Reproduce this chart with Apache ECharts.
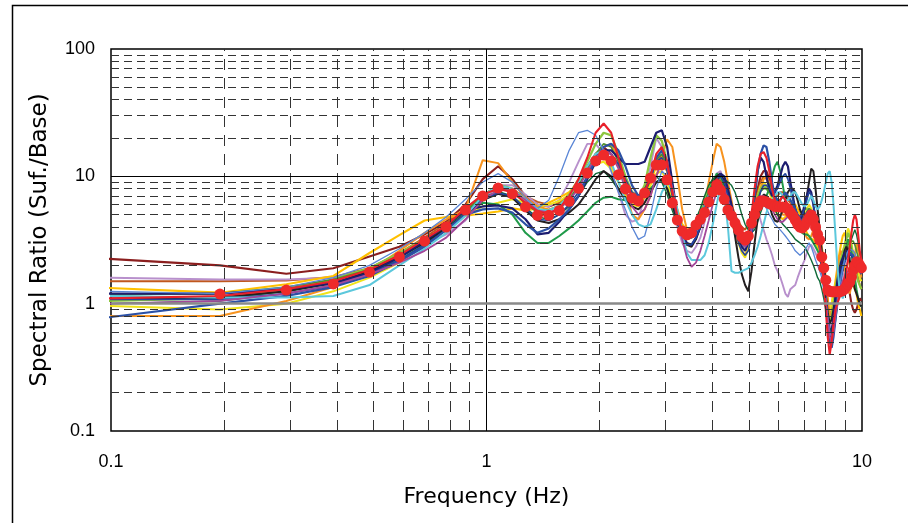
<!DOCTYPE html>
<html><head><meta charset="utf-8">
<script src="https://cdn.jsdelivr.net/npm/echarts@6/dist/echarts.min.js"></script>
<style>html,body{margin:0;padding:0;background:#fff}#c{width:908px;height:523px}</style>
</head><body><div id="c"></div>
<script>
// FFT frequency bins (Hz)
const freq = [0.098,0.195,0.293,0.391,0.488,0.586,0.684,0.781,0.879,0.977,1.074,1.172,1.270,1.367,1.465,1.563,1.660,1.758,1.855,1.953,2.051,2.148,2.246,2.344,2.441,2.539,2.637,2.734,2.832,2.930,3.027,3.125,3.223,3.320,3.418,3.516,3.613,3.711,3.809,3.906,4.004,4.102,4.199,4.297,4.395,4.492,4.590,4.688,4.785,4.883,4.980,5.078,5.176,5.273,5.371,5.469,5.566,5.664,5.762,5.859,5.957,6.055,6.152,6.250,6.348,6.445,6.543,6.641,6.738,6.836,6.934,7.031,7.129,7.227,7.324,7.422,7.520,7.617,7.715,7.813,7.910,8.008,8.105,8.203,8.301,8.398,8.496,8.594,8.691,8.789,8.887,8.984,9.082,9.180,9.277,9.375,9.473,9.570,9.668,9.766,9.863,9.961];

const sRed = [1.1,1.15,1.3,1.5,1.85,2.4,3.2,4.1,5.6, 7.2,8.0,7.5,6.2,5.3,5.1,5.6, 7.0,9.5,14,22,26,22,14,9,7,6.5, 7.5,10,15,17,13,7.5,4.8,3.7,3.4,3.5, 4.0,4.6,5.3,6.5,8,9.5,9,7.5,6,5,4.2,3.6,3.2,3.1, 3.5,5,8,12,15,15.5,14,11,8,6.5,6,6.5,7,6.5,6,5.5,5,4.6,4.2,4,4.2,4.6,5,5.4,5.2,4.6,3.9,3.4,3.0, 2.2,1.5,0.9,0.55,0.4,0.5,0.7,0.9,1.0,1.1,1.2,1.4,1.6,1.8,2.2,2.8,3.6,4.5,5.0,4.6,3.5,2.6,2.2];
const sMaroon = [2.25,2.0,1.72,1.9,2.35,2.8,3.5,4.4,6.0, 9.5,12,9.5,7.0,6.0,5.8,6.2, 7.2,9.0,12,15,17,15,12,9,7.5,7.0, 8.0,10.5,13,14,11,7.2,5.0,4.0,3.7,3.8, 4.3,5.0,5.8,7,8.5,9,8.5,7.5,6.2,5.2,4.5,4.0,3.6,3.4, 3.6,4.5,6,8,10,11,11,9.5,8,7,6.5,6,5.5,5.2,5,4.8,4.6,4.5,4.4,4.5,4.7,5,5.2,5,4.6,4.2,3.8,3.4,3.1, 2.5,2.0,1.5,1.0,0.7,0.6,0.7,0.9,1.2,1.5,1.7,1.9,1.8,1.6,1.4,1.2,1.0,0.9,0.85,0.9,1.0,1.1,1.05];
const sOrange = [0.8,0.8,1.05,1.35,1.8,2.6,3.6,4.6,5.5, 13.4,12.7,9.0,6.8,5.8,5.5,5.8, 6.8,8.5,11,14,17,18,14,8,5,4.6, 5.5,7,10,14,19.5,17,10,5.5,3.8,3.5, 3.8,4.5,6,9,13,18,17,13,9,6.5,4.5,3.5,3,2.8, 3,3.8,5,6.5,8,9.5,10,9,7.5,6.5,6,5.5,5,5,5.2,5.5,5.8,5.5,5,4.5,4,3.6,3.3,3.2,3.4,3.8,4.2,4,3.5, 2.8,2.2,1.6,1.1,0.8,0.8,1.0,1.3,1.8,2.3,2.6,2.4,2.0,1.6,1.3,1.2,1.4,1.8,2.4,3.0,2.6,2.0,1.6];
const sGold = [1.33,1.22,1.42,1.65,2.5,3.45,4.5,4.8,4.9, 5.1,5.3,5.6,5.4,5.6,6.2,6.8, 7.5,9,11,13,14,12,9,7,6,6, 7,9,12,13,11,8,5.5,4.2,3.8,3.9, 4.5,5.2,6,7,8,9,8,7,5.5,4.5,3.6,3.0,2.6,2.4, 2.8,3.5,4.5,5.5,6.5,7,7,6.5,6,5.5,5,4.8,4.6,4.8,5,5.5,6,6,5.5,5,4.5,4,3.6,3.4,3.2,3.2,3.0,2.8,2.5, 2.0,1.6,1.2,1.0,0.9,1.0,1.2,1.5,1.9,2.4,2.9,3.4,3.6,3.2,2.6,2.0,1.6,1.4,1.3,1.2,1.0,0.9,0.8];
const sYellow = [0.96,0.9,1.0,1.25,1.6,2.1,2.9,3.8,4.9, 5.8,6.2,6.6,6.2,5.8,6.0,6.4, 7.2,8.6,10.5,12.5,13,11.5,9,7,6,5.8, 6.8,8.5,10.5,11,9,6.5,4.6,3.6,3.2,3.3, 3.8,4.4,5.4,6.6,8,9.5,10,8.5,6.5,5,3.8,3.0,2.5,2.3, 2.7,3.6,5,7,8.5,9,8.5,7.5,6.5,6,6,6.5,7,7.5,7,6.5,6,5.4,4.8,4.4,4.4,4.8,5.5,6,5.6,4.8,4,3.4,3, 2.3,1.8,1.3,1.0,0.9,1.0,1.2,1.4,1.7,2.0,2.3,2.6,2.9,3.4,3.9,3.6,3.0,2.5,2.2,2.0,1.8,1.6,1.5];
const sLime = [1.05,1.1,1.3,1.55,1.9,2.5,3.2,4.0,5.3, 7.0,8.6,8.0,6.5,5.5,5.4,5.9, 7.2,9.5,13,18,22,21,15,10,7.5,6.8, 8.5,14,21,19,13,7.5,5,3.8,3.4,3.6, 4.4,5.4,6.6,8,9.5,10,9,7.5,6,5,4.2,3.6,3.1,2.9, 3.2,4.2,5.5,7,8,8.5,8,7.5,7,6.5,6.5,6,5.5,5.2,5,4.8,4.6,4.5,4.5,4.8,5.2,5.5,5.6,5.2,4.6,4,3.5,3.1,2.8, 2.2,1.6,1.1,0.8,0.7,0.8,1.0,1.3,1.6,1.9,2.2,2.5,2.8,3.2,3.6,3.3,2.8,2.4,2.0,1.7,1.5,1.4,1.3];
const sGreen = [1.15,1.1,1.25,1.45,1.75,2.2,2.9,3.8,5.0, 6.2,6.0,5.0,3.6,3.0,3.0,3.4, 3.9,4.5,5.3,6.2,6.8,6.9,6.6,6.5,6.6,6.5, 7.0,8.0,9.0,9.5,8,6,4.5,3.6,3.3,3.4, 4.0,4.8,6,7.5,9,10.5,10,8.5,7,5.8,4.8,4,3.4,3.0, 3.3,4,5,6,6.5,6.8,7,8,10,12,13,11,8.5,6.5,5.5,5,4.6,4.2,4,3.8,3.6,3.5,3.5,3.4,3.2,3.0,2.8,2.6,2.4, 2.0,1.5,1.1,0.8,0.6,0.55,0.6,0.75,1.0,1.3,1.6,2.0,2.4,2.8,3.2,3.0,2.5,2.0,1.6,1.3,1.1,1.0,0.95];
const sDkGreen = [1.0,1.05,1.2,1.4,1.75,2.3,3.0,3.9,5.2, 6.8,7.6,7.0,5.6,4.8,4.6,5.0, 5.8,7.0,9.0,10.5,11,9.5,7.8,6.8,6.5,7.0, 8.0,9.5,10,9,7.2,5.4,4.2,3.6,3.5,3.8, 4.6,5.6,7,8.5,9.5,10,10,9.5,9,8.5,7.5,6.2,5,4.2, 3.8,3.6,3.8,4.4,5.2,6,6.5,6.5,6,5.5,5,4.5,4.2,4,3.8,3.6,3.4,3.2,3.1,3.0,2.9,2.8,2.6,2.4,2.2,2.0,1.8,1.6,1.5, 1.3,1.1,0.9,0.75,0.65,0.6,0.65,0.8,1.0,1.3,1.6,1.9,2.2,2.4,2.6,2.9,3.2,3.5,3.8,3.5,3.0,2.5,2.2];
const sBlack = [1.1,1.12,1.25,1.45,1.8,2.35,3.0,3.9,5.0, 6.5,7.3,6.8,5.4,4.5,4.3,4.6, 5.2,6.0,7.5,9.5,11,10,8,6.5,5.8,5.5, 6.2,7.5,9,9.5,8,6,4.4,3.4,2.9,2.8, 3.2,4,5.2,6.8,8.5,10,10.5,9,7,5,3.4,2.3,1.7,1.4, 1.25,1.8,3,4.6,6.2,7.2,7,6,5,4.5,4.4,4.8,5.5,6.5,7.5,8,8,7.5,6.5,5.5,5,5.5,7,9,11.5,11,8,5.5,3.8, 2.6,1.8,1.2,0.85,0.7,0.75,0.9,1.1,1.3,1.5,1.8,2.2,2.6,2.8,2.6,2.2,1.8,1.5,1.3,1.2,1.1,1.0,0.95];
const sNavy = [1.2,1.2,1.3,1.45,1.75,2.3,3.1,4.1,5.4, 5.8,5.9,5.6,4.6,3.5,3.6,4.4, 5.5,7,9.5,13,16,16,14,12.5,12.5,12.5, 13,17,22,23,17,9,5,3.5,3.0,2.9, 3.3,4,5,6.2,7.5,9,10.5,10,8,6,4.5,3.4,2.8,2.6, 3,4.5,7,11,14,13,10,8,7,7.5,8.5,10,12,13,12,9,7,5.5,4.8,4.5,5,6,7,8,7.5,6,4.5,3.5,2.8, 2.0,1.4,1.0,0.7,0.55,0.6,0.8,1.1,1.5,1.8,2.1,2.3,2.5,2.6,2.6,2.5,2.4,2.3,2.3,2.2,2.1,2.0,1.9];
const sBlue = [0.78,1.0,1.15,1.35,1.65,2.15,2.8,3.8,5.0, 5.5,5.6,5.2,4.2,3.6,3.9,4.6, 5.5,7,10,14,17,18,16,12,8.5,7, 7.5,10,14,16,13,8,5,3.8,3.3,3.3, 3.7,4.3,5.2,6.4,7.6,8.6,8.6,7.6,6.4,5.2,4.2,3.5,3.0,2.8, 3.2,4.6,7,11,15,17.5,17,13,9,7,6.5,6.5,7,7.5,7,6.5,6,5.5,5,4.6,4.5,4.8,5.2,5.4,5,4.4,3.8,3.3,2.9, 2.1,1.5,1.0,0.7,0.5,0.45,0.55,0.75,1.0,1.3,1.6,1.9,2.1,2.3,2.4,2.5,2.5,2.4,2.2,2.0,1.9,1.8,1.7];
const sCorn = [1.25,1.2,1.35,1.6,2.0,2.7,3.6,4.8,6.6, 9.0,10.5,9.0,6.8,5.6,6.5,10, 16,22,23,21,16,11,7.5,5.5,4,3.2, 3.4,5,8,11,10,7.5,5.2,4,3.6,3.6, 4.2,5,6,7.2,8.4,9,8.5,7.5,6.4,5.4,4.6,4,3.6,3.4, 3.6,4.2,5,5.6,6,6,5.6,5,4.6,4.2,4,3.8,3.6,3.4,3.2,3,2.8,2.6,2.5,2.4,2.5,2.6,2.8,3.0,2.8,2.5,2.2,2.0,1.8, 1.6,1.3,1.0,0.75,0.6,0.55,0.6,0.8,1.0,1.3,1.6,1.9,2.2,2.4,2.6,2.7,2.7,2.6,2.5,2.3,2.1,2.0,1.9];
const sCyan = [1.15,1.12,1.12,1.15,1.4,2.0,2.7,3.6,4.9, 7,8.5,8,6.5,5.5,5.4,5.9, 7,9,12,15,16,13,9,6.5,5,4.2, 4,4.2,5.5,7.5,9,8,5.5,3.5,2.5,2.2, 2.2,2.2,2.4,3,4.2,6,8.5,7,4,1.8,1.75,1.75,1.8,1.85, 1.9,2.1,2.4,2.8,3.4,4.2,5.2,6,6.5,7,7.5,7.5,7,6.5,6.5,7,7.5,7.5,7,6.5,6,5.8,6,6.5,7,6.5,5.8,5.5,5.8, 6.5,7.5,9,10.5,11,9,6,3.5,2.0,1.4,1.2,1.1,1.2,1.4,1.6,1.8,2.0,2.2,2.3,2.2,2.0,1.9,1.8];
const sLavender = [1.6,1.55,1.55,1.6,1.85,2.3,2.9,3.5,4.5, 6.5,8.5,8.5,7.2,6.0,5.8,6.5, 9,13,18,18,15,11,7.5,5,4.4,4.6, 7,12,20,17,11,6.5,4,3,2.6,2.5, 2.8,3.3,4.4,6,8,10.5,11,9,7,5.5,4.5,3.8,3.5,3.3, 3.5,4.5,6,5.5,4.5,3.8,3.2,2.8,2.4,2.0,1.8,1.62,1.4,1.2,1.13,1.3,1.35,1.4,1.6,1.8,2.0,2.2,2.5,2.8,2.9,2.7,2.5,2.3,2.2, 2.0,1.7,1.3,1.0,0.7,0.6,0.65,0.8,1.0,1.2,1.4,1.6,1.8,2.0,2.2,2.3,2.3,2.2,2.1,2.0,1.9,1.8,1.8];
const sMagenta = [1.0,1.05,1.2,1.4,1.7,2.1,2.6,3.3,4.6, 6.5,7.8,7.8,6.5,5.4,5.2,5.6, 6.5,8,11,14,16,15,11.5,8,5.8,5, 5.5,7,10,13,12,8,5,3.2,2.3,1.95, 2.1,2.6,3.4,4.5,6,7.5,8.5,8,6.5,5,4,3.4,3,2.8, 3,3.8,5,6.3,7,7,6.5,6,5.5,5,4.6,4.4,4.4,4.6,4.8,5,5,4.8,4.5,4.2,4,4,4.2,4.5,4.4,4,3.6,3.2,2.8, 2.2,1.6,1.1,0.75,0.55,0.5,0.6,0.8,1.0,1.2,1.4,1.5,1.6,1.7,1.8,1.9,2.0,2.1,2.1,2.0,1.9,1.8,1.8];
const sSienna = [1.5,1.5,1.52,1.62,1.9,2.5,3.3,4.3,5.6, 7,8,7.8,7,6.3,6,6.2, 7,8.6,11,14,16,15,12,9,7.2,6.6, 7.5,10,13,14.5,11.5,7.5,5,3.9,3.5,3.6, 4.3,5.2,6.3,7.6,9,10,9.5,8.5,7.2,6,5,4.4,4,3.8, 4.2,5,6,7.5,9,10,9.5,8.5,7.5,7,7,7.5,7.5,7,6.5,6.2,6,5.8,5.5,5.2,5,5,5.2,5.4,5.2,4.8,4.2,3.6,3.1, 2.3,1.8,1.3,0.9,0.65,0.6,0.7,0.9,1.2,1.5,1.8,2.1,2.3,2.4,2.5,2.5,2.4,2.2,2.0,1.8,1.6,1.4,1.3];
const sDkBlue = [1.08,1.08,1.2,1.38,1.7,2.2,2.9,3.8,5.1, 6.6,7.4,7.0,5.6,4.6,4.5,5.0, 6,7.5,10,13,15.5,15,12.5,9.5,7.5,6.8, 7.5,9.5,13,14,11,7,4.5,3.3,2.9,2.9, 3.3,4,5,6.4,8,9.5,10,9,7,5.2,3.9,3.0,2.6,2.4, 2.6,3.4,4.6,6.2,7.6,8.5,8.5,8,7.5,7.5,8,9,10,10.5,9.5,8,6.5,5.6,5,4.8,5,5.6,6.5,7.5,7.2,6,4.8,3.8,3.0, 2.2,1.6,1.1,0.8,0.6,0.55,0.65,0.85,1.1,1.4,1.7,2.0,2.2,2.4,2.5,2.5,2.4,2.3,2.2,2.1,2.0,1.9,1.9];
const sOlive = [1.18,1.2,1.35,1.55,1.85,2.4,3.1,4.0,5.3, 7.2,8.3,7.6,6.1,5.2,5.1,5.5, 6.6,8.4,11.5,15,18,17,13,9,7,6.3, 7.2,9.5,13.5,15,12,7.5,4.9,3.7,3.3,3.4, 4,4.8,6,7.3,8.6,9.5,9.2,8,6.5,5.3,4.4,3.8,3.4,3.2, 3.5,4.3,5.4,6.6,7.6,8,8,7.6,7.2,6.8,6.5,6.2,6,5.8,5.6,5.4,5.2,5,4.8,4.6,4.6,4.8,5.2,5.6,5.4,4.8,4.2,3.6,3.1, 2.2,1.6,1.1,0.75,0.55,0.5,0.6,0.8,1.1,1.4,1.7,2.0,2.3,2.6,2.9,3.1,3.2,3.1,2.9,2.6,2.3,2.1,2.0];
// Average spectral ratio (red dots), first bin not plotted
const sAvg = [null,1.19,1.28,1.43,1.77,2.33,3.1,4.0,5.44, 7.0,8.1,7.3,5.75,4.94,4.94,5.4, 6.36,8.05,10.6,13.2,14.7,13.2,10.3,7.96,6.76,6.41, 7.4,9.7,12.3,12.3,9.4,6.18,4.54,3.72,3.47,3.6, 4.15,4.6,5.2,6.3,7.54,8.56,7.8,6.6,5.44,4.9,4.3,3.79,3.34,3.16, 3.4,4.3,5.0,5.8,6.4,6.4,6.3,6.1,6.0,5.8,5.8,5.75,5.75,5.7,5.54,5.2,4.9,4.54,4.2,4.0,3.93,4.1,4.39,4.7,4.97,4.6,4.0,3.5,3.16, 2.33,1.91,1.53,1.28,1.25,1.24,1.24,1.24,1.24,1.24,1.25,1.27,1.30,1.36,1.42,1.48,1.62,1.84,2.0,2.13,2.1,2.0,1.91];

const xMinor = [0.2,0.3,0.4,0.5,0.6,0.7,0.8,0.9,2,3,4,5,6,7,8,9];
const yMinor = [0.2,0.3,0.4,0.5,0.6,0.7,0.8,0.9,2,3,4,5,6,7,8,9,20,30,40,50,60,70,80,90];

const lines = [
  [sMaroon,'#8B1E1E',2.1],[sSienna,'#C0571E',1.9],[sLavender,'#B890CC',1.9],[sGold,'#FFC000',2.1],
  [sYellow,'#F0E31A',2],[sOrange,'#F7931E',2],[sLime,'#8DC63F',2.3],[sGreen,'#1F9A49',2],
  [sDkGreen,'#0E6A38',1.4],[sOlive,'#4E8F2C',1.6],[sBlack,'#231F20',2],[sNavy,'#1C1C70',2.2],
  [sDkBlue,'#23449C',1.6],[sBlue,'#2B50A5',2.2],[sCorn,'#5A86D6',1.3],[sCyan,'#5CC8DC',2],
  [sMagenta,'#A4479A',1.8],[sRed,'#E8202A',2.1]
];

const toPairs = arr => freq.map((f,i)=>[f, arr[i]]).filter(p=>p[1]!=null);

const dashH = {color:'#333', width:1, type:[8,5]};
const dashV = {color:'#333', width:1, type:[11,8]};
const mlData = [];
xMinor.forEach(v=>mlData.push({xAxis:v, lineStyle:dashV}));
yMinor.forEach(v=>mlData.push({yAxis:v, lineStyle:dashH}));
mlData.push({xAxis:1, lineStyle:{color:'#000', width:1, type:'solid'}});
mlData.push({yAxis:10, lineStyle:{color:'#000', width:1.2, type:'solid'}});
mlData.push({yAxis:1, lineStyle:{color:'#8a8a8a', width:2.5, type:'solid'}});

const series = [{
  type:'line', data:[[1,1]], showSymbol:false, lineStyle:{opacity:0}, z:1, silent:true,
  markLine:{silent:true, symbol:['none','none'], label:{show:false}, animation:false, data:mlData}
}];
lines.forEach(([arr,col,w])=>{
  series.push({type:'line', data:toPairs(arr), showSymbol:false, symbol:'none', clip:true, z:3,
    lineStyle:{color:col, width:w}, silent:true});
});
series.push({type:'scatter', data:toPairs(sAvg), symbolSize:11, z:5, clip:true,
  itemStyle:{color:'#EE2A2A', opacity:1}, silent:true});

const chart = echarts.init(document.getElementById('c'), null, {renderer:'canvas'});
chart.setOption({
  animation:false,
  backgroundColor:'#fff',
  graphic:[{type:'rect', shape:{x:12.5,y:5.5,width:1000,height:1000}, style:{fill:'none', stroke:'#000', lineWidth:1.5}}],
  grid:{left:111, right:46, top:49, bottom:92, show:true, borderColor:'#000', borderWidth:1.5},
  xAxis:{type:'log', logBase:10, min:0.1, max:10,
    axisLine:{show:false}, axisTick:{show:false}, splitLine:{show:false}, minorSplitLine:{show:false},
    axisLabel:{fontSize:18, color:'#000', margin:22, fontFamily:'Liberation Sans'},
    name:'Frequency (Hz)', nameLocation:'middle', nameGap:55,
    nameTextStyle:{fontSize:22, color:'#000', fontFamily:'DejaVu Sans'}},
  yAxis:{type:'log', logBase:10, min:0.1, max:100,
    axisLine:{show:false}, axisTick:{show:false}, splitLine:{show:false},
    axisLabel:{fontSize:18, color:'#000', margin:16, fontFamily:'Liberation Sans'},
    name:'Spectral Ratio (Suf./Base)', nameLocation:'middle', nameGap:59,
    nameTextStyle:{fontSize:23, color:'#000', fontFamily:'DejaVu Sans'}},
  series:series
});
</script></body></html>
